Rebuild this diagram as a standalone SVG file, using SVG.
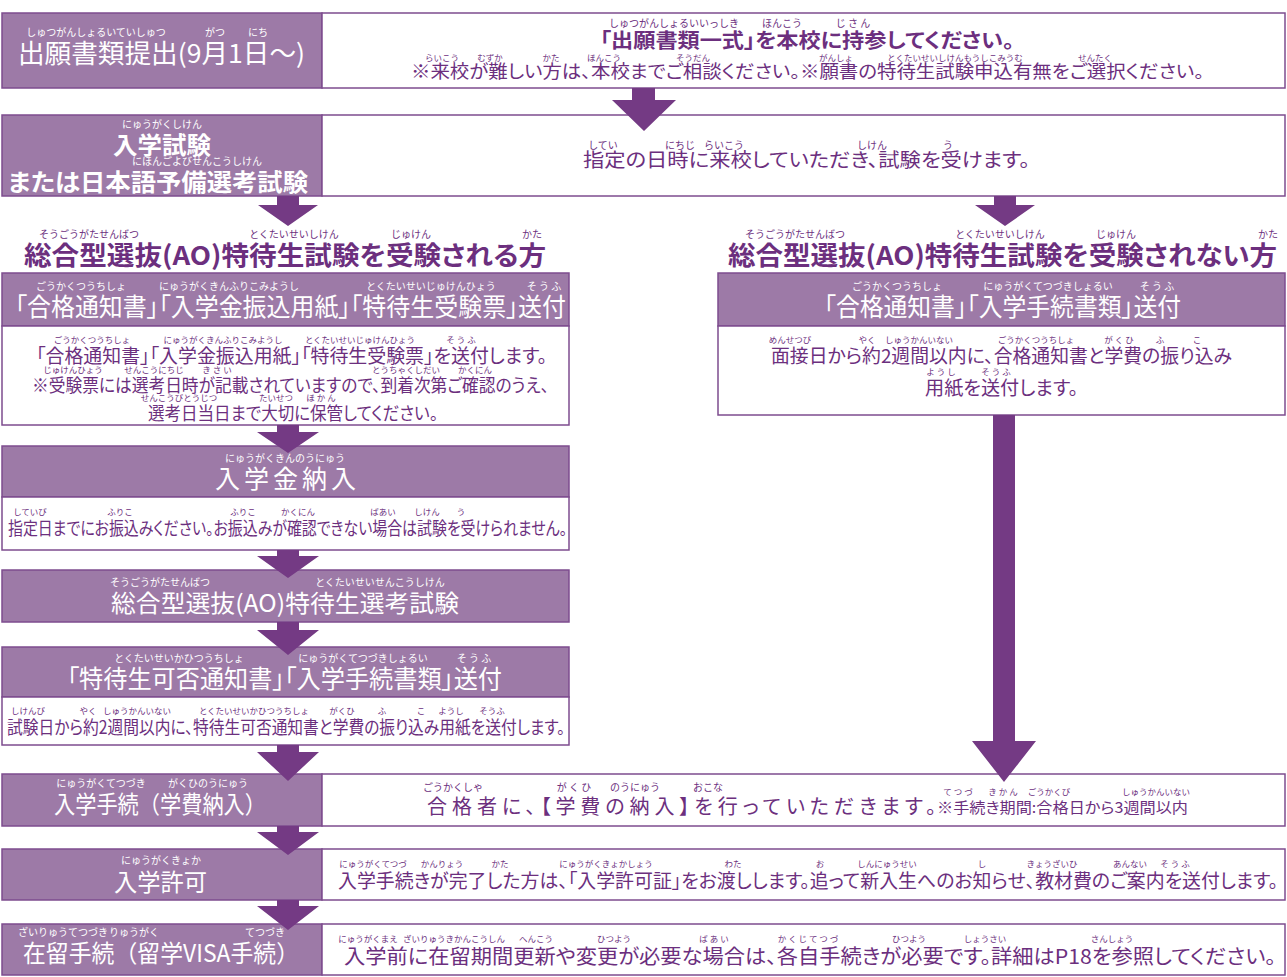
<svg xmlns="http://www.w3.org/2000/svg" width="1287" height="977" viewBox="0 0 1287 977">
<style>
text{font-family:"Noto Sans CJK JP","Noto Sans",sans-serif;}
.t{font-feature-settings:"palt";}
.w{fill:#fff}
.p{fill:#6c2f7e}
.r{font-size:10px;text-anchor:middle}
.rs{font-size:8.5px;text-anchor:middle}
.b{font-weight:bold}
.hb{fill:#9d7aa7;stroke:#7e4c8f;stroke-width:1.5}
.wb{fill:#fff;stroke:#7e4c8f;stroke-width:1.5}
.arr{fill:#743a84}
</style>
<rect width="1287" height="977" fill="#fff"/>

<g id="submit">
<rect class="hb" x="2" y="13" width="320" height="75"/>
<rect class="wb" x="322" y="13" width="963" height="75"/>
<text class="t w" x="18" y="63" font-size="26" textLength="287" lengthAdjust="spacingAndGlyphs">出願書類提出(9月1日〜)</text>
<g class="w r"><text x="96" y="36">しゅつがんしょるいていしゅつ</text><text x="215" y="36">がつ</text><text x="258" y="36">にち</text></g>
<text class="t p b" x="600" y="48" font-size="20" textLength="414" lengthAdjust="spacingAndGlyphs">「出願書類一式」を本校に持参してください。</text>
<g class="p r"><text x="674" y="27">しゅつがんしょるいいっしき</text><text x="782" y="27">ほんこう</text><text x="853" y="27">じ さ ん</text></g>
<text class="t p" x="411" y="78" font-size="18" textLength="793" lengthAdjust="spacingAndGlyphs">※来校が難しい方は、本校までご相談ください。※願書の特待生試験申込有無をご選択ください。</text>
<g class="p rs"><text x="442" y="61">らいこう</text><text x="490" y="61">むずか</text><text x="551" y="61">かた</text><text x="604" y="61">ほんこう</text><text x="693" y="61">そうだん</text><text x="836" y="61">がんしょ</text><text x="955" y="61">とくたいせいしけんもうしこみうむ</text><text x="1095" y="61">せんたく</text></g>
</g>

<g id="exam">
<rect class="hb" x="2" y="115" width="320" height="81"/>
<rect class="wb" x="322" y="115" width="963" height="81"/>
<text class="t w b" x="113" y="154" font-size="24" textLength="98" lengthAdjust="spacingAndGlyphs">入学試験</text>
<text class="w r" x="162" y="128">にゅうがくしけん</text>
<text class="t w b" x="8" y="191" font-size="24" textLength="300" lengthAdjust="spacingAndGlyphs">または日本語予備選考試験</text>
<text class="w r" x="197" y="165">にほんごよびせんこうしけん</text>
<text class="t p" x="583" y="167" font-size="19.5" textLength="447" lengthAdjust="spacingAndGlyphs">指定の日時に来校していただき、試験を受けます。</text>
<g class="p r"><text x="603" y="149">してい</text><text x="680" y="149">にちじ</text><text x="724" y="149">らいこう</text><text x="872" y="149">しけん</text><text x="948" y="149">う</text></g>
</g>

<g id="headingA">
<text class="t p b" x="24" y="265" font-size="26" textLength="522" lengthAdjust="spacingAndGlyphs">総合型選抜(AO)特待生試験を受験される方</text>
<g class="p r"><text x="89" y="238">そうごうがたせんばつ</text><text x="294" y="238">とくたいせいしけん</text><text x="411" y="238">じゅけん</text><text x="532" y="238">かた</text></g>
</g>
<g id="headingB">
<text class="t p b" x="728" y="265" font-size="26" textLength="549" lengthAdjust="spacingAndGlyphs">総合型選抜(AO)特待生試験を受験されない方</text>
<g class="p r"><text x="795" y="238">そうごうがたせんばつ</text><text x="1000" y="238">とくたいせいしけん</text><text x="1116" y="238">じゅけん</text><text x="1268" y="238">かた</text></g>
</g>

<g id="sendA">
<rect class="hb" x="2" y="273" width="567" height="53"/>
<rect class="wb" x="2" y="326" width="567" height="99"/>
<text class="t w" x="15" y="316" font-size="25" textLength="551" lengthAdjust="spacingAndGlyphs">「合格通知書」「入学金振込用紙」「特待生受験票」送付</text>
<g class="w r"><text x="81" y="290">ごうかくつうちしょ</text><text x="229" y="290">にゅうがくきんふりこみようし</text><text x="431" y="290">とくたいせいじゅけんひょう</text><text x="544" y="290">そ う ふ</text></g>
<text class="t p" x="36" y="363" font-size="19" textLength="511" lengthAdjust="spacingAndGlyphs">「合格通知書」「入学金振込用紙」「特待生受験票」を送付します。</text>
<g class="p rs"><text x="92" y="343">ごうかくつうちしょ</text><text x="223" y="343">にゅうがくきんふりこみようし</text><text x="360" y="343">とくたいせいじゅけんひょう</text><text x="461" y="343">そ う ふ</text></g>
<text class="t p" x="32" y="392" font-size="18" textLength="517" lengthAdjust="spacingAndGlyphs">※受験票には選考日時が記載されていますので、到着次第ご確認のうえ、</text>
<g class="p rs"><text x="73" y="373">じゅけんひょう</text><text x="154" y="373">せんこうにちじ</text><text x="217" y="373">き さ い</text><text x="406" y="373">とうちゃくしだい</text><text x="475" y="373">かくにん</text></g>
<text class="t p" x="148" y="420" font-size="18" textLength="290" lengthAdjust="spacingAndGlyphs">選考日当日まで大切に保管してください。</text>
<g class="p rs"><text x="179" y="401">せんこうびとうじつ</text><text x="276" y="401">たいせつ</text><text x="321" y="401">ほ か ん</text></g>
</g>

<g id="sendB">
<rect class="hb" x="718" y="273" width="567" height="53"/>
<rect class="wb" x="718" y="326" width="567" height="89"/>
<text class="t w" x="824" y="316" font-size="25" textLength="357" lengthAdjust="spacingAndGlyphs">「合格通知書」「入学手続書類」送付</text>
<g class="w r"><text x="897" y="290">ごうかくつうちしょ</text><text x="1048" y="290">にゅうがくてつづきしょるい</text><text x="1157" y="290">そ う ふ</text></g>
<text class="t p" x="771" y="363" font-size="19" textLength="461" lengthAdjust="spacingAndGlyphs">面接日から約2週間以内に、合格通知書と学費の振り込み</text>
<g class="p rs"><text x="790" y="343">めんせつび</text><text x="867" y="343">やく</text><text x="919" y="343">しゅうかんいない</text><text x="1036" y="343">ごうかくつうちしょ</text><text x="1119" y="343">が く ひ</text><text x="1160" y="343">ふ</text><text x="1197" y="343">こ</text></g>
<text class="t p" x="925" y="395" font-size="19" textLength="153" lengthAdjust="spacingAndGlyphs">用紙を送付します。</text>
<g class="p rs"><text x="941" y="375">よ う し</text><text x="996" y="375">そ う ふ</text></g>
</g>

<g id="fee">
<rect class="hb" x="2" y="446" width="567" height="51"/>
<rect class="wb" x="2" y="497" width="567" height="53"/>
<text class="t w" x="215" y="488" font-size="25" textLength="141" lengthAdjust="spacing">入学金納入</text>
<text class="w r" x="285" y="462">にゅうがくきんのうにゅう</text>
<text class="t p" x="8" y="535" font-size="18" textLength="559" lengthAdjust="spacingAndGlyphs">指定日までにお振込みください。お振込みが確認できない場合は試験を受けられません。</text>
<g class="p rs"><text x="30" y="515">していび</text><text x="120" y="515">ふりこ</text><text x="243" y="515">ふりこ</text><text x="298" y="515">かくにん</text><text x="383" y="515">ばあい</text><text x="427" y="515">しけん</text><text x="461" y="515">う</text></g>
</g>

<g id="aoexam">
<rect class="hb" x="2" y="570" width="567" height="52"/>
<text class="t w" x="111" y="612" font-size="24" textLength="348" lengthAdjust="spacingAndGlyphs">総合型選抜(AO)特待生選考試験</text>
<g class="w r"><text x="160" y="586">そうごうがたせんばつ</text><text x="380" y="586">とくたいせいせんこうしけん</text></g>
</g>

<g id="result">
<rect class="hb" x="2" y="647" width="567" height="50"/>
<rect class="wb" x="2" y="697" width="567" height="48"/>
<text class="t w" x="67" y="688" font-size="25" textLength="435" lengthAdjust="spacingAndGlyphs">「特待生可否通知書」「入学手続書類」送付</text>
<g class="w r"><text x="179" y="662">とくたいせいかひつうちしょ</text><text x="363" y="662">にゅうがくてつづきしょるい</text><text x="474" y="662">そ う ふ</text></g>
<text class="t p" x="7" y="734" font-size="18" textLength="558" lengthAdjust="spacingAndGlyphs">試験日から約2週間以内に、特待生可否通知書と学費の振り込み用紙を送付します。</text>
<g class="p rs"><text x="28" y="714">しけんび</text><text x="88" y="714">やく</text><text x="137" y="714">しゅうかんいない</text><text x="254" y="714">とくたいせいかひつうちしょ</text><text x="342" y="714">がくひ</text><text x="382" y="714">ふ</text><text x="421" y="714">こ</text><text x="451" y="714">ようし</text><text x="492" y="714">そうふ</text></g>
</g>

<g id="procedure">
<rect class="hb" x="2" y="774" width="320" height="52"/>
<rect class="wb" x="322" y="774" width="963" height="52"/>
<text class="w" x="54" y="813" font-size="24" textLength="212" lengthAdjust="spacingAndGlyphs">入学手続（学費納入）</text>
<g class="w r"><text x="101" y="787">にゅうがくてつづき</text><text x="208" y="787">がくひのうにゅう</text></g>
<text class="t p" x="427" y="814" font-size="20" textLength="509" lengthAdjust="spacing">合格者に、【学費の納入】を行っていただきます。</text>
<text class="t p" x="937" y="813" font-size="15" textLength="251" lengthAdjust="spacingAndGlyphs">※手続き期間:合格日から3週間以内</text>
<g class="p r"><text x="453" y="791">ごうかくしゃ</text><text x="574" y="791">が く ひ</text><text x="635" y="791">のうにゅう</text><text x="708" y="791">おこな</text></g>
<g class="p rs"><text x="958" y="795">て つ づ</text><text x="1003" y="795">き か ん</text><text x="1049" y="795">ごうかくび</text><text x="1156" y="795">しゅうかんいない</text></g>
</g>

<g id="permit">
<rect class="hb" x="2" y="849" width="320" height="51"/>
<rect class="wb" x="322" y="849" width="963" height="51"/>
<text class="t w" x="114" y="891" font-size="24" textLength="93" lengthAdjust="spacingAndGlyphs">入学許可</text>
<text class="w r" x="161" y="864">にゅうがくきょか</text>
<text class="t p" x="338" y="888" font-size="19" textLength="940" lengthAdjust="spacingAndGlyphs">入学手続きが完了した方は、「入学許可証」をお渡しします。追って新入生へのお知らせ、教材費のご案内を送付します。</text>
<g class="p rs"><text x="373" y="867">にゅうがくてつづ</text><text x="442" y="867">かんりょう</text><text x="500" y="867">かた</text><text x="606" y="867">にゅうがくきょかしょう</text><text x="733" y="867">わた</text><text x="820" y="867">お</text><text x="887" y="867">しんにゅうせい</text><text x="982" y="867">し</text><text x="1052" y="867">きょうざいひ</text><text x="1130" y="867">あんない</text><text x="1175" y="867">そ う ふ</text></g>
</g>

<g id="residence">
<rect class="hb" x="2" y="924" width="320" height="51"/>
<rect class="wb" x="322" y="924" width="963" height="51"/>
<text class="w" x="23" y="962" font-size="24" textLength="276" lengthAdjust="spacingAndGlyphs">在留手続（留学VISA手続）</text>
<g class="w r"><text x="63" y="936">ざいりゅうてつづき</text><text x="134" y="936">りゅうがく</text><text x="265" y="936">てつづき</text></g>
<text class="t p" x="344" y="964" font-size="20" textLength="932" lengthAdjust="spacingAndGlyphs">入学前に在留期間更新や変更が必要な場合は、各自手続きが必要です。詳細はP18を参照してください。</text>
<g class="p rs"><text x="368" y="942">にゅうがくまえ</text><text x="454" y="942">ざいりゅうきかんこうしん</text><text x="536" y="942">へんこう</text><text x="614" y="942">ひつよう</text><text x="714" y="942">ば あ い</text><text x="808" y="942">か く じ て つ づ</text><text x="909" y="942">ひつよう</text><text x="985" y="942">しょうさい</text><text x="1112" y="942">さんしょう</text></g>
</g>

<g id="connectors" class="arr">
<polygon points="632,88 655,88 655,100 676,100 644,131 612,100 632,100"/>
<polygon points="277,196 299,196 299,205 318,205 288,226 258,205 277,205"/>
<polygon points="994,196 1016,196 1016,205 1035,205 1005,226 975,205 994,205"/>
<polygon points="277,425 299,425 299,432 319,432 288,453 257,432 277,432"/>
<polygon points="277,550 299,550 299,556 319,556 288,578 257,556 277,556"/>
<polygon points="277,622 299,622 299,630 319,630 288,655 257,630 277,630"/>
<polygon points="277,745 299,745 299,752 319,752 288,781 257,752 277,752"/>
<polygon points="993,415 1015,415 1015,741 1036,741 1004,782 972,741 993,741"/>
<polygon points="277,826 299,826 299,832 319,832 288,855 257,832 277,832"/>
<polygon points="277,900 299,900 299,906 319,906 288,930 257,906 277,906"/>
</g>
</svg>
